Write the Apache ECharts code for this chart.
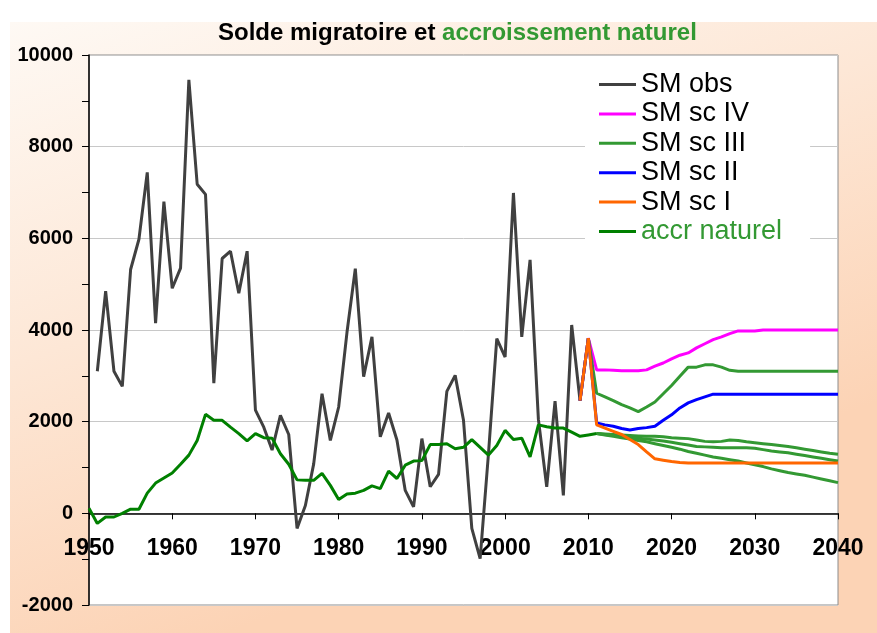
<!DOCTYPE html>
<html>
<head>
<meta charset="utf-8">
<script src="https://cdn.jsdelivr.net/npm/echarts@6/dist/echarts.min.js"></script>
<style>
  html, body { margin: 0; padding: 0; background: #fff; }
  #chart { width: 877px; height: 633px; }
</style>
</head>
<body>
<div id="chart"></div>
<script>
// solde migratoire observé, 1951 -> 2009
var obsStart = 1951;
var smObs = [3100, 4850, 3100, 2770, 5320, 5980, 7440, 4150, 6800, 4910,
    5350, 9460, 7180, 6960, 2840, 5560, 5720, 4800, 5720, 2250,
    1880, 1380, 2140, 1720, -330, 170, 1080, 2610, 1590, 2320,
    3950, 5340, 2980, 3850, 1670, 2190, 1600, 500, 140, 1630,
    580, 850, 2660, 3010, 2030, -330, -990, 1300, 3810, 3410,
    6990, 3850, 5530, 2050, 580, 2450, 390, 4110, 2460];

// scénarios, 2009 -> 2040
var scStart = 2009;
var scIV = [2460, 3820, 3130, 3130, 3120, 3110, 3110, 3110, 3130, 3210, 3280, 3370, 3450, 3500, 3610, 3700,
    3790, 3850, 3920, 3980, 3980, 3980, 4000, 4000, 4000, 4000, 4000, 4000, 4000, 4000, 4000, 4000];
var scIII = [2460, 3820, 2620, 2540, 2460, 2370, 2300, 2220, 2320, 2430, 2610, 2790, 2990, 3190, 3190, 3240,
    3240, 3190, 3120, 3100, 3100, 3100, 3100, 3100, 3100, 3100, 3100, 3100, 3100, 3100, 3100, 3100];
var scII = [2460, 3820, 1970, 1930, 1900, 1850, 1820, 1850, 1870, 1900, 2030, 2150, 2300, 2410, 2480, 2540,
    2600, 2600, 2600, 2600, 2600, 2600, 2600, 2600, 2600, 2600, 2600, 2600, 2600, 2600, 2600, 2600];
var scI = [2460, 3820, 1930, 1860, 1790, 1720, 1610, 1500, 1340, 1190, 1160, 1130, 1110, 1100, 1100, 1100,
    1100, 1100, 1100, 1100, 1100, 1100, 1100, 1100, 1100, 1100, 1100, 1100, 1100, 1100, 1100, 1100];

// accroissement naturel, 1950 -> 2011
var accrStart = 1950;
var accrNat = [110, -220, -80, -80, 0, 90, 90, 440, 660, 770,
    880, 1070, 1270, 1590, 2160, 2030, 2030, 1880, 1740, 1580,
    1740, 1650, 1640, 1300, 1070, 730, 720, 720, 870, 610,
    300, 420, 440, 500, 600, 540, 920, 760, 1050, 1140,
    1150, 1500, 1500, 1520, 1410, 1440, 1610, 1440, 1270, 1480,
    1810, 1610, 1640, 1230, 1930, 1890, 1860, 1860, 1770, 1680,
    1710, 1740];

// projections de l'accroissement naturel, 2011 -> 2040
var projStart = 2011;
var accrHaut = [1740, 1730, 1720, 1710, 1700, 1690, 1680, 1680, 1670, 1650, 1640, 1630, 1600, 1570, 1560,
    1570, 1600, 1590, 1560, 1540, 1520, 1500, 1480, 1460, 1430, 1400, 1370, 1340, 1310, 1290];
var accrMoyen = [1740, 1720, 1700, 1680, 1660, 1640, 1620, 1600, 1580, 1550, 1520, 1490, 1460, 1450, 1440,
    1430, 1430, 1430, 1430, 1420, 1390, 1360, 1340, 1320, 1290, 1260, 1230, 1200, 1170, 1140];
var accrBas = [1740, 1710, 1680, 1650, 1620, 1590, 1560, 1520, 1480, 1440, 1400, 1350, 1310, 1270, 1230,
    1200, 1170, 1140, 1100, 1060, 1020, 970, 930, 890, 860, 830, 790, 750, 710, 670];

function pairs(start, arr) {
    return arr.map(function (v, i) { return [start + i, v]; });
}

function ligne(name, start, arr, color, width) {
    return {
        name: name,
        type: 'line',
        data: pairs(start, arr),
        showSymbol: false,
        symbol: 'none',
        lineStyle: { color: color, width: width || 3 },
        itemStyle: { color: color },
        emphasis: { disabled: true }
    };
}

function brut(v) { return String(v); }

var myChart = echarts.init(document.getElementById('chart'));
var vert = '#339933';

myChart.setOption({
    animation: false,
    graphic: [{
        type: 'rect',
        z: -10,
        shape: { x: 10, y: 22, width: 867, height: 611 },
        style: {
            fill: new echarts.graphic.LinearGradient(0, 0, 0.25, 1, [
                { offset: 0, color: '#FEF9F4' },
                { offset: 0.5, color: '#FDE7D6' },
                { offset: 1, color: '#FCD3B5' }
            ])
        }
    }],
    title: {
        text: '{a|Solde migratoire et }{b|accroissement naturel}',
        left: 213,
        top: 16,
        textStyle: {
            rich: {
                a: { fontFamily: 'Liberation Sans', fontWeight: 'bold', fontSize: 24, color: '#000' },
                b: { fontFamily: 'Liberation Sans', fontWeight: 'bold', fontSize: 24, color: vert }
            }
        }
    },
    legend: {
        orient: 'vertical',
        left: 585,
        top: 63,
        padding: [8, 28, 8, 14],
        backgroundColor: '#fff',
        itemWidth: 37,
        itemHeight: 3,
        itemGap: 2.4,
        icon: 'rect',
        textStyle: { fontFamily: 'Liberation Sans', fontSize: 27, color: '#000', lineHeight: 27 },
        data: [
            { name: 'SM obs' },
            { name: 'SM sc IV' },
            { name: 'SM sc III' },
            { name: 'SM sc II' },
            { name: 'SM sc I' },
            { name: 'accr naturel', textStyle: { color: vert } }
        ]
    },
    grid: {
        left: 89,
        right: 39,
        top: 55,
        bottom: 28,
        show: true,
        backgroundColor: '#fff',
        borderColor: '#8c8c8c',
        borderWidth: 1
    },
    xAxis: {
        type: 'value',
        min: 1950,
        max: 2040,
        interval: 10,
        offset: -91.67,
        axisLine: { onZero: false, lineStyle: { color: '#000', width: 1.5 } },
        axisTick: { show: true, length: 6, lineStyle: { color: '#000' } },
        axisLabel: {
            margin: 24,
            fontFamily: 'Liberation Sans',
            fontWeight: 'bold',
            fontSize: 23,
            color: '#000',
            formatter: brut
        },
        splitLine: { show: false }
    },
    yAxis: {
        type: 'value',
        min: -2000,
        max: 10000,
        interval: 2000,
        axisLine: { show: true, lineStyle: { color: '#000', width: 1.5 } },
        axisTick: { show: true, length: 7, lineStyle: { color: '#000' } },
        minorTick: { show: true, splitNumber: 2, length: 7, lineStyle: { color: '#000' } },
        axisLabel: {
            margin: 16,
            fontFamily: 'Liberation Sans',
            fontWeight: 'bold',
            fontSize: 20,
            color: '#000',
            formatter: brut
        },
        splitLine: { show: true, lineStyle: { color: '#c8c8c8', width: 1 } }
    },
    series: [
        ligne('SM obs', obsStart, smObs, '#404040'),
        ligne('accr haut', projStart, accrHaut, vert),
        ligne('accr moyen', projStart, accrMoyen, vert),
        ligne('accr bas', projStart, accrBas, vert),
        ligne('accr naturel', accrStart, accrNat, '#008000'),
        ligne('SM sc IV', scStart, scIV, '#ff00ff'),
        ligne('SM sc III', scStart, scIII, vert),
        ligne('SM sc II', scStart, scII, '#0000ff'),
        ligne('SM sc I', scStart, scI, '#ff6600')
    ]
});
</script>
</body>
</html>
